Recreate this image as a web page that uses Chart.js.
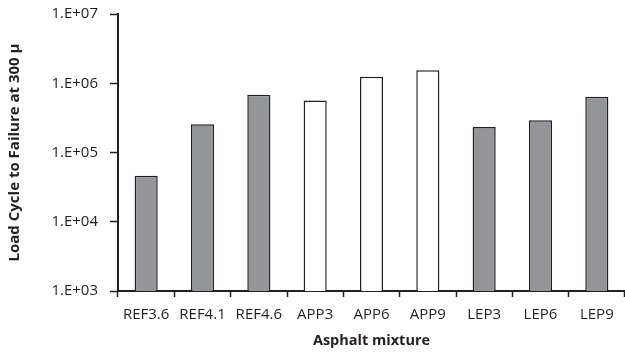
<!DOCTYPE html>
<html>
<head>
<meta charset="utf-8">
<script src="https://cdn.jsdelivr.net/npm/chart.js@4"></script>
<style>
  html, body { margin: 0; padding: 0; background: #fff; }
  #wrap { width: 625px; height: 352px; }
</style>
</head>
<body>
<div id="wrap"><canvas id="fatigue-chart"></canvas></div>
<script>
// data
const mixtures = ['REF3.6', 'REF4.1', 'REF4.6', 'APP3', 'APP6', 'APP9', 'LEP3', 'LEP6', 'LEP9'];
const groups = ['REF', 'REF', 'REF', 'APP', 'APP', 'APP', 'LEP', 'LEP', 'LEP'];
const cycles = [46000, 255000, 680000, 565000, 1240000, 1540000, 233000, 292000, 640000];
const tickValues = [1e3, 1e4, 1e5, 1e6, 1e7];
const tickLabels = ['1.E+03', '1.E+04', '1.E+05', '1.E+06', '1.E+07'];

const groupFill = { REF: '#939598', APP: '#ffffff', LEP: '#939598' };
const ink = '#231f20';
const font = 'Open Sans, Liberation Sans, sans-serif';

const ctx = document.getElementById('fatigue-chart').getContext('2d');
new Chart(ctx, {
    type: 'bar',
    data: {
        labels: mixtures,
        datasets: [{
            data: cycles,
            backgroundColor: groups.map(g => groupFill[g]),
            borderColor: ink,
            borderWidth: 1.5,
            borderSkipped: 'bottom',
            categoryPercentage: 1,
            barPercentage: 0.41
        }]
    },
    options: {
        responsive: true,
        maintainAspectRatio: false,
        animation: false,
        layout: { padding: { top: 14, left: 0, right: 0, bottom: 0 } },
        plugins: { legend: { display: false }, tooltip: { enabled: false } },
        scales: {
            x: {
                grid: { display: true, drawOnChartArea: false, offset: true, tickLength: 6, tickColor: ink, tickWidth: 1.5 },
                border: { display: true, color: ink, width: 2 },
                ticks: { color: ink, font: { family: font, size: 15 }, padding: 9, maxRotation: 0, autoSkip: false },
                title: { display: true, text: 'Asphalt mixture', color: ink, font: { family: font, size: 14.5, weight: 'bold' }, padding: { top: 0, bottom: 2 } },
                afterFit: s => { s.height = 61; s.paddingLeft = 0; s.paddingRight = 0; }
            },
            y: {
                type: 'logarithmic',
                min: 1e3,
                max: 1e7,
                grid: { display: true, drawOnChartArea: false, tickLength: 8, tickColor: ink, tickWidth: 1.5 },
                border: { display: true, color: ink, width: 2 },
                afterBuildTicks: s => { s.ticks = tickValues.map(v => ({ value: v })); },
                ticks: {
                    color: ink,
                    font: { family: font, size: 15 },
                    padding: 12,
                    callback: (v) => tickLabels[tickValues.indexOf(v)]
                },
                title: { display: true, text: 'Load Cycle to Failure at 300 μ', color: ink, font: { family: font, size: 15, weight: 'bold' }, padding: { top: 6, bottom: 12 } },
                afterFit: s => { s.width = 118; s.paddingTop = 0; s.paddingBottom = 0; }
            }
        }
    }
});
</script>
</body>
</html>
